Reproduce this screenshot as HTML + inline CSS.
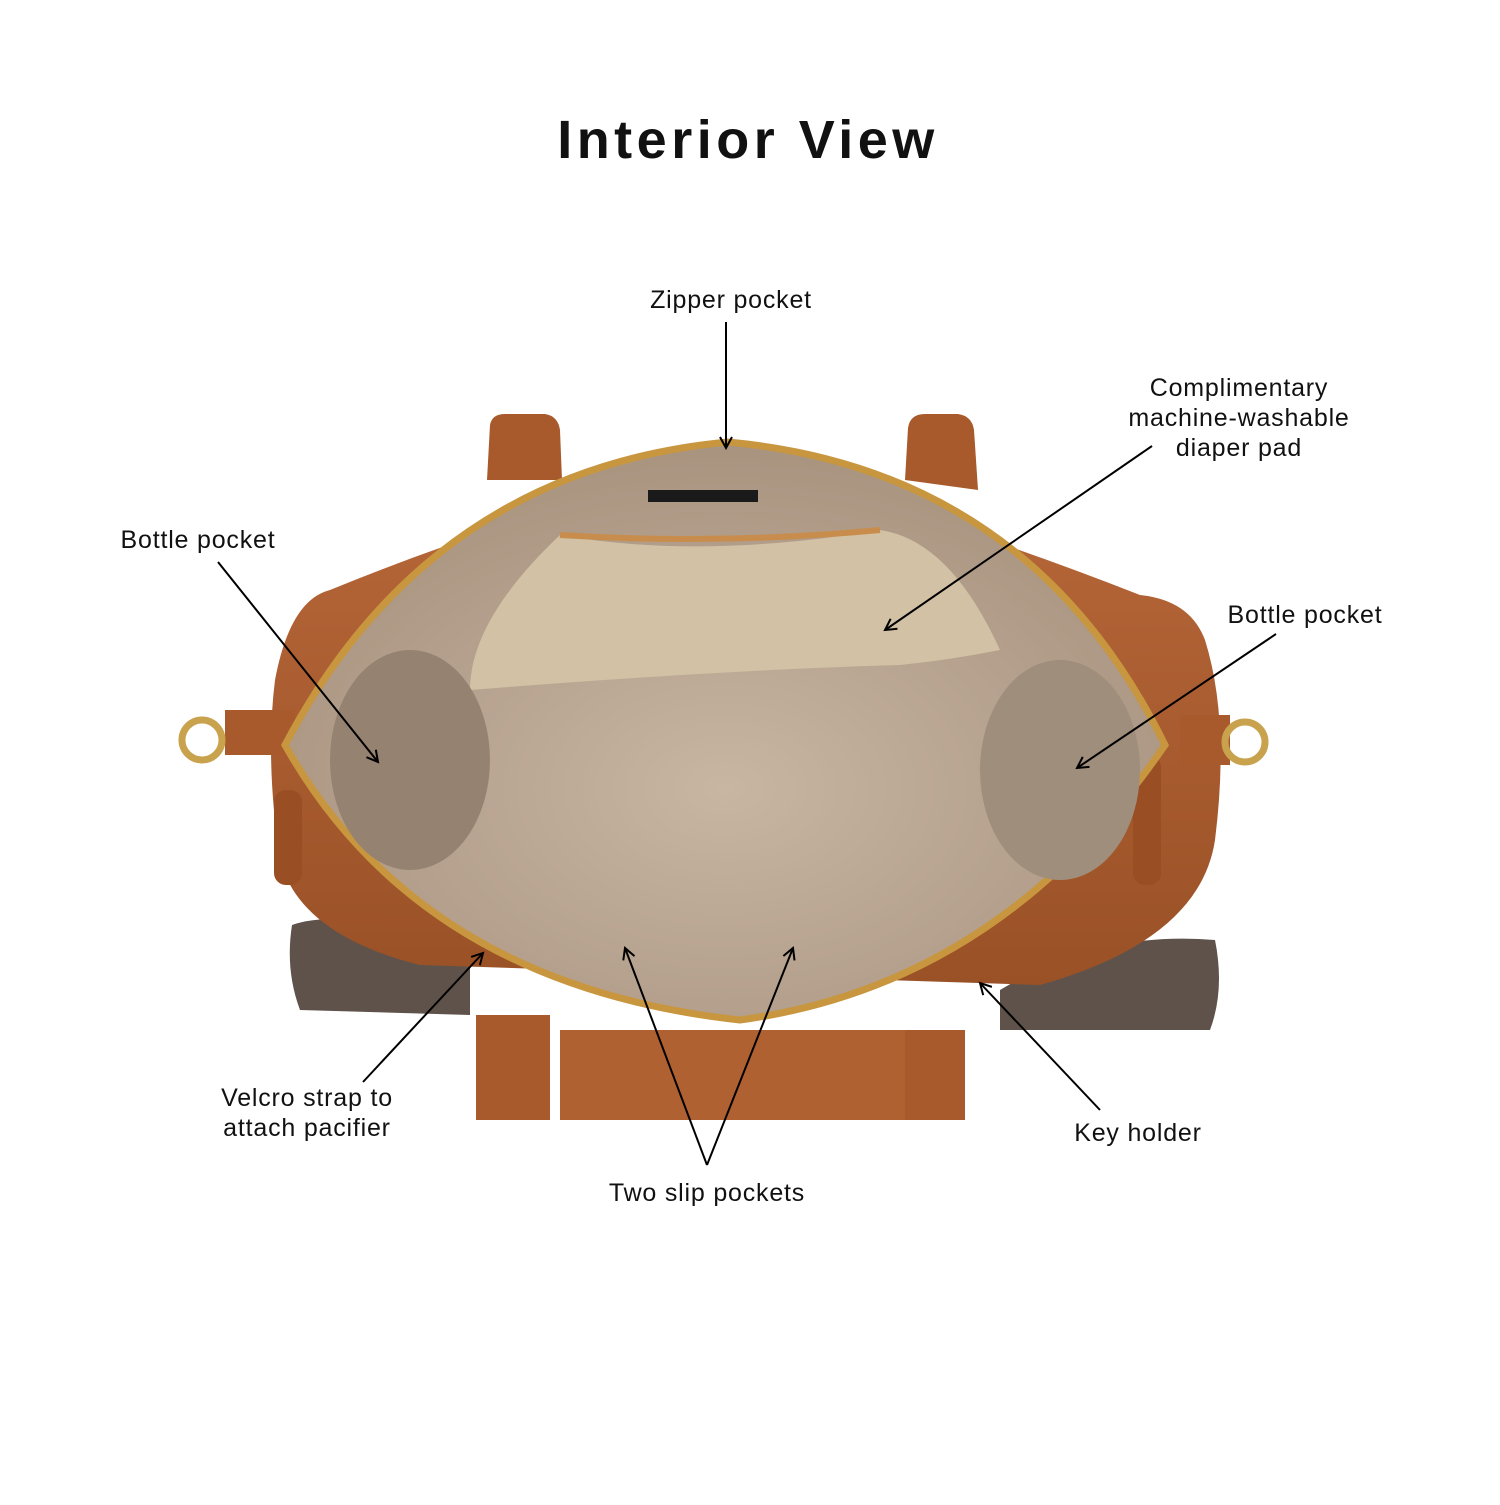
<!DOCTYPE html>
<html><head><meta charset="utf-8"><style>
html,body{margin:0;padding:0;background:#fff;}
body{width:1500px;height:1500px;position:relative;overflow:hidden;font-family:"Liberation Sans",sans-serif;}
</style></head><body>
<svg width="1500" height="1500" viewBox="0 0 1500 1500" xmlns="http://www.w3.org/2000/svg">
<defs>
<marker id="ah" markerWidth="14" markerHeight="14" refX="12" refY="7" orient="auto" markerUnits="userSpaceOnUse">
<path d="M1,1 L12,7 L1,13" fill="none" stroke="#000" stroke-width="2"/>
</marker>
<radialGradient id="lin" cx="0.5" cy="0.6" r="0.6">
<stop offset="0" stop-color="#c8b6a2"/><stop offset="1" stop-color="#a8937f"/>
</radialGradient>
<linearGradient id="br" x1="0" y1="0" x2="0" y2="1">
<stop offset="0" stop-color="#b8683a"/><stop offset="1" stop-color="#9a5126"/>
</linearGradient>
</defs>
<text x="748" y="158" text-anchor="middle" font-size="54" font-weight="bold" fill="#111" letter-spacing="4.5">Interior View</text>

<path d="M487,480 L490,425 Q492,414 505,414 L545,414 Q558,416 560,430 L562,480 Z" fill="#a85a2c"/>
<path d="M905,480 L908,428 Q910,414 925,414 L958,414 Q972,416 974,430 L978,490 Z" fill="#a85a2c"/>
<path d="M292,925 Q330,910 470,930 L470,1015 L300,1010 Q285,970 292,925 Z" fill="#5e524a"/>
<path d="M1000,990 Q1100,930 1215,940 Q1225,990 1210,1030 L1000,1030 Z" fill="#5e524a"/>
<path d="M330,590 Q290,600 275,680 Q265,760 280,860 Q300,935 420,965 L1040,985 Q1200,940 1215,840 Q1230,720 1205,640 Q1190,600 1140,595 Q950,520 728,460 Q500,520 330,590 Z" fill="url(#br)"/>
<rect x="225" y="710" width="70" height="45" fill="#a85a2c"/>
<rect x="1180" y="715" width="50" height="50" fill="#a85a2c"/>
<circle cx="202" cy="740" r="20" fill="none" stroke="#c9a24e" stroke-width="7"/>
<circle cx="1245" cy="742" r="20" fill="none" stroke="#c9a24e" stroke-width="7"/>
<rect x="274" y="790" width="28" height="95" rx="12" fill="#9a4e24"/>
<rect x="1133" y="755" width="28" height="130" rx="12" fill="#9a4e24"/>
<path d="M728,442 Q1030,470 1165,745 Q1000,985 740,1020 Q420,985 285,745 Q430,470 728,442 Z" fill="url(#lin)" stroke="#c8963f" stroke-width="7"/>
<path d="M470,690 Q470,620 560,535 Q700,560 880,530 Q950,540 1000,650 Q950,660 900,665 Q720,670 470,690 Z" fill="#d2c1a4"/>
<path d="M560,535 Q720,545 880,530" fill="none" stroke="#c88d4c" stroke-width="6"/>
<rect x="648" y="490" width="110" height="12" fill="#1a1a1a"/>
<ellipse cx="410" cy="760" rx="80" ry="110" fill="#958271"/>
<ellipse cx="1060" cy="770" rx="80" ry="110" fill="#a08e7c"/>
<rect x="476" y="1015" width="74" height="105" fill="#a85a2c"/>
<rect x="560" y="1030" width="350" height="90" fill="#b06132"/>
<rect x="905" y="1030" width="60" height="90" fill="#a85a2c"/>

<g font-size="25" fill="#111" text-anchor="middle" letter-spacing="0.8">
<text x="731" y="308">Zipper pocket</text>
<text x="1239" y="396">Complimentary</text>
<text x="1239" y="426">machine-washable</text>
<text x="1239" y="456">diaper pad</text>
<text x="198" y="548">Bottle pocket</text>
<text x="1305" y="623">Bottle pocket</text>
<text x="307" y="1106">Velcro strap to</text>
<text x="307" y="1136">attach pacifier</text>
<text x="707" y="1201">Two slip pockets</text>
<text x="1138" y="1141">Key holder</text>
</g>
<g stroke="#000" stroke-width="2" fill="none" marker-end="url(#ah)">
<line x1="726" y1="322" x2="726" y2="448"/>
<line x1="1152" y1="446" x2="885" y2="630"/>
<line x1="218" y1="562" x2="378" y2="762"/>
<line x1="1276" y1="634" x2="1077" y2="768"/>
<line x1="363" y1="1082" x2="483" y2="953"/>
<line x1="707" y1="1165" x2="625" y2="948"/>
<line x1="707" y1="1165" x2="793" y2="948"/>
<line x1="1100" y1="1110" x2="980" y2="983"/>
</g>
</svg>
</body></html>
